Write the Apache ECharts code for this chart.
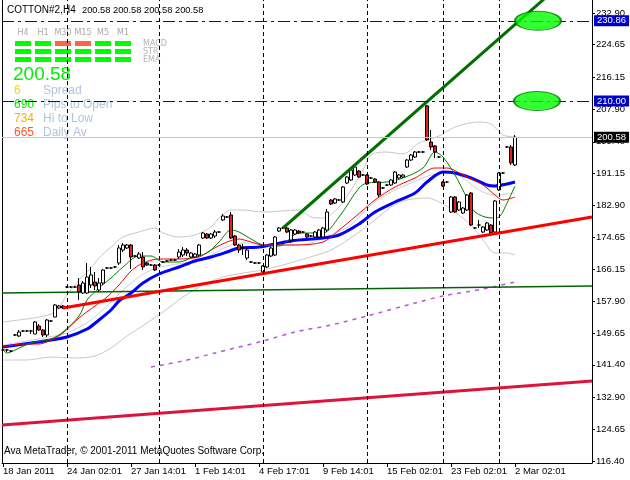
<!DOCTYPE html>
<html><head><meta charset="utf-8">
<script src="https://cdn.jsdelivr.net/npm/echarts@6/dist/echarts.min.js"></script>
<style>html,body{margin:0;padding:0;background:#fff}#c{width:630px;height:480px}</style>
</head><body><div id="c"></div>
<script>
// ---- candles (bar index = position in arrays) ----
const opens = [145.26,145.26,145.00,149.16,148.90,150.20,150.20,150.20,149.42,151.50,
150.46,149.16,152.80,153.84,156.18,156.70,161.64,161.64,161.64,162.16,
160.08,160.08,162.16,162.94,160.86,162.68,166.58,166.58,166.84,167.88,
171.26,171.78,172.56,169.70,169.18,169.44,167.88,167.36,167.36,167.36,
168.14,168.40,168.66,168.66,169.44,169.96,171.26,169.44,169.44,169.96,
174.38,175.42,174.38,174.90,175.94,179.06,179.84,180.36,174.90,172.56,
171.78,169.18,168.14,167.88,167.88,165.54,166.84,169.70,169.96,176.20,
176.98,176.98,173.86,175.42,176.20,175.94,175.42,174.90,174.64,174.64,
174.64,176.46,184.26,183.48,184.26,183.74,188.68,189.46,190.76,191.80,
190.76,190.76,189.98,189.72,188.94,187.38,188.16,188.16,188.68,189.98,
190.24,192.84,194.66,195.44,196.74,196.74,208.74,199.34,198.30,195.44,
188.94,188.94,181.14,185.04,181.66,180.88,181.66,186.08,176.98,177.76,
175.94,176.46,177.76,175.94,186.86,191.28,198.04,198.04,193.36];
const closes = [145.26,145.26,145.00,149.16,149.94,150.20,150.20,150.20,152.54,150.46,
149.16,153.06,152.80,156.96,156.70,156.18,161.64,161.64,161.64,160.34,
162.68,164.24,164.76,161.90,162.68,166.06,166.58,166.58,166.84,171.78,
172.56,172.56,169.44,169.70,170.22,166.84,167.36,167.36,166.06,167.36,
168.14,168.40,168.66,168.66,170.74,171.26,170.48,170.48,170.22,172.56,
175.68,174.38,175.42,175.94,175.94,180.10,179.84,174.38,172.56,171.26,
171.78,171.26,168.14,167.88,167.88,167.10,169.96,171.78,174.64,176.98,
176.98,175.94,176.46,176.46,175.68,175.94,174.64,174.90,175.94,176.46,
176.98,181.14,183.22,184.52,184.26,187.64,190.24,192.06,192.84,190.24,
190.76,188.42,189.98,188.94,185.56,187.38,188.16,189.46,191.54,190.76,
190.76,194.66,195.96,196.74,196.74,196.74,199.86,198.04,196.74,195.44,
187.90,188.94,185.04,181.14,183.74,182.18,185.56,177.76,176.98,177.76,
177.24,178.28,175.68,184.00,191.28,191.28,198.04,193.88,200.58];
const highs = [145.52,145.52,145.26,149.42,150.46,150.46,150.46,150.46,152.80,152.02,
150.72,153.32,153.06,157.22,156.96,156.96,161.90,161.90,161.90,163.98,
163.20,167.88,166.84,165.54,163.98,166.32,166.84,166.84,167.10,172.56,
173.08,172.82,172.82,169.96,170.74,170.74,168.14,167.62,167.62,167.62,
168.40,168.66,168.92,168.92,171.52,172.04,171.78,170.74,170.48,172.82,
175.94,175.68,175.68,176.46,176.20,180.62,180.10,181.14,175.16,172.82,
172.82,171.78,168.40,168.14,168.14,167.36,170.22,172.04,174.90,177.24,
177.24,177.50,176.72,176.72,176.46,176.20,175.68,175.16,176.20,176.72,
177.24,181.92,184.52,184.78,184.52,187.90,190.50,192.58,193.10,192.06,
191.02,191.02,190.24,189.98,189.20,187.64,188.42,189.72,191.80,191.02,
191.02,194.92,196.22,197.00,197.00,197.00,209.00,202.46,198.56,195.70,
189.20,189.20,185.30,185.30,184.00,182.44,185.82,186.34,177.24,179.06,
177.50,178.54,178.02,184.26,191.54,191.54,198.30,198.56,201.16];
const lows = [144.74,144.74,144.74,148.90,148.64,149.94,149.94,149.42,149.42,150.20,
148.64,148.64,152.54,153.84,155.92,155.92,161.38,161.38,161.38,158.26,
159.82,159.82,161.38,160.86,160.34,162.16,166.32,166.32,166.58,167.36,
170.74,171.52,166.32,169.44,168.92,166.06,167.10,167.10,165.80,167.10,
167.88,168.14,168.40,168.40,168.92,169.44,169.70,169.18,169.18,169.44,
174.12,174.12,174.12,174.38,175.68,178.80,179.58,174.12,172.30,170.48,
169.96,168.66,167.88,167.62,167.62,165.28,166.58,169.44,169.70,175.94,
176.72,175.68,173.08,175.16,175.42,175.68,174.38,174.64,174.38,174.38,
174.38,175.94,182.96,183.22,184.00,183.48,188.42,189.20,190.50,189.98,
190.50,188.16,189.72,188.68,185.04,187.12,187.90,187.90,188.42,189.72,
189.98,192.58,194.40,195.18,196.48,196.48,199.60,197.26,195.18,195.18,
187.64,188.68,180.88,180.88,181.40,180.62,181.40,177.50,176.72,176.98,
175.68,176.20,175.42,175.68,186.60,191.02,197.78,193.36,193.10];

// ---- indicator lines, [bar index, price] ----
const blueMA = [[0,146.04],[7,147.08],[12,147.86],[16,148.64],[21,150.72],[24,153.06],[27,155.66],[29,158.00],[32,160.08],[35,162.68],[39,165.02],[44,166.84],[48,168.40],[52,169.44],[56,170.74],[59,171.78],[64,172.04],[72,173.60],[80,174.38],[84,175.16],[89,178.02],[93,181.14],[98,183.74],[103,186.08],[106,188.94],[110,191.54],[113,191.28],[117,189.98],[121,188.16],[123,187.90],[126,188.42],[128,188.94]];
const redMA = [[0,146.04],[5,146.82],[9,146.82],[13,148.38],[15,149.68],[19,153.58],[23,156.70],[26,159.04],[29,162.16],[32,165.80],[35,167.88],[39,168.92],[44,168.92],[49,169.44],[52,171.26],[56,173.34],[59,174.12],[62,173.34],[65,172.56],[73,172.56],[80,173.34],[84,176.46],[88,179.84],[93,184.26],[98,187.64],[103,189.98],[108,192.58],[111,192.58],[115,190.76],[120,188.16],[123,185.56],[125,184.26],[128,185.04]];
const greenMA = [[0,145.26],[1,144.48],[3,145.26],[7,147.08],[12,148.12],[15,149.94],[19,154.10],[21,158.26],[24,161.38],[27,163.98],[30,166.84],[34,169.70],[37,169.70],[40,168.14],[44,168.14],[47,169.18],[51,170.48],[54,173.34],[57,176.46],[59,175.94],[62,174.12],[65,172.56],[69,172.30],[74,175.68],[80,175.68],[84,179.84],[89,187.38],[91,188.68],[96,188.94],[100,189.98],[105,192.58],[108,196.74],[110,195.44],[113,190.76],[116,184.78],[118,181.14],[122,179.58],[124,179.84],[126,183.48],[128,187.90]];
const bandUpper = [[0,152.54],[4,153.06],[9,153.84],[13,155.14],[16,159.56],[19,163.46],[22,166.58],[24,169.18],[27,172.04],[30,174.64],[34,175.94],[38,176.98],[40,175.68],[44,174.64],[48,175.16],[52,177.24],[54,179.58],[57,181.66],[60,181.66],[65,181.14],[74,181.66],[77,179.84],[80,179.58],[84,182.44],[87,186.86],[90,192.06],[92,195.96],[96,196.74],[100,196.22],[104,199.08],[109,200.90],[113,203.24],[119,204.54],[122,204.02],[125,201.16],[128,200.64]];
const bandMiddle = [[0,146.56],[10,148.38],[16,149.68],[22,153.06],[27,157.74],[32,162.68],[37,166.06],[42,167.36],[47,168.14],[52,169.96],[57,172.56],[62,173.08],[67,172.56],[72,172.56],[77,173.08],[82,175.16],[87,177.76],[92,182.96],[97,186.34],[102,188.68],[107,190.76],[111,191.54],[115,189.98],[119,186.86],[123,185.56],[128,186.08]];
const bandLower = [[0,142.66],[6,142.66],[12,143.44],[18,143.18],[23,143.70],[27,145.78],[31,148.90],[36,152.28],[40,155.14],[45,159.04],[50,162.16],[55,164.24],[60,165.28],[65,166.06],[70,167.36],[76,169.18],[82,171.26],[88,175.16],[93,179.06],[97,182.44],[101,184.26],[106,184.78],[110,183.22],[114,180.36],[117,177.76],[120,173.86],[123,170.48],[126,170.48],[128,169.96]];
const purpleMA = [[37,140.84],[45,142.40],[53,144.48],[65,147.60],[73,149.94],[82,151.76],[91,154.10],[103,157.48],[110,159.30],[120,161.12],[128,162.94]];

// ---- drawn objects ----
const greenTrend = [[70,176.98],[147.25,247.45]];
const redTrend = [[15,156.18],[147.25,179.84]];
const greenFlat = [[-0.25,160.08],[147.25,161.90]];
const crimsonTrend = [[-0.25,125.76],[147.25,137.20]];
const alertLevels = [230.86, 210.00];
const bidPrice = 200.58;
const alertMarkers = [[133.75,230.86],[133.5,210.00]];
const weekSeparators = [16,39,65,91,110,124];

// ---- axes ----
const yMin = 115.88, yMax = 236.26;
const yTickValues = [116.40,124.65,132.90,141.40,149.65,157.90,166.15,174.65,182.90,191.15,199.40,207.90,216.15,224.65,232.90];
const xTickSlots = [0,16,32,48,64,80,96,112,128];
const xTickLabels = ['18 Jan 2011','24 Jan 02:01','27 Jan 14:01','1 Feb 14:01','4 Feb 17:01','9 Feb 14:01','15 Feb 02:01','23 Feb 02:01','2 Mar 02:01'];

// ---- panel text ----
const tfNames = ['H4','H1','M30','M15','M5','M1'];
const rowNames = ['MACD','STR','EMA'];
const signalRows = [[1,1,0,0,1,1],[1,1,1,1,1,1],[1,1,1,1,1,1]];
const statValues = ['6','690','734','665'];
const statNames = ['Spread','Pips to Open','Hi to Low','Daily Av'];

const F = 'Liberation Sans, Arial, sans-serif';
const FD = 'DejaVu Sans, sans-serif';
const chart = echarts.init(document.getElementById('c'));
const candleData = opens.map((o,i)=>[i,o,closes[i],lows[i],highs[i]]);

function ln(data,color,width,z,extra){
  return Object.assign({type:'line',data:data,showSymbol:false,symbol:'none',silent:true,z:z,
    lineStyle:{color:color,width:width},clip:true},extra||{});
}

const graphics = [];
graphics.push({type:'text',x:7,y:10,style:{text:'COTTON#2,H4',font:'10px '+F,fill:'#000',verticalAlign:'middle'}});
[0,1,2,3].forEach(k=>graphics.push({type:'text',x:82+k*31,y:10,style:{text:bidPrice.toFixed(2),font:'9.3px '+F,fill:'#000',verticalAlign:'middle'}}));
const colX=[15,35,55,75,95,115];
tfNames.forEach((t,i)=>graphics.push({type:'text',x:colX[i]+8,y:33,style:{text:t,font:'8px '+FD,fill:'#a8a8a8',align:'center',verticalAlign:'middle'}}));
signalRows.forEach((row,r)=>row.forEach((s,i)=>graphics.push({type:'rect',shape:{x:colX[i],y:41+r*8,width:16,height:5},style:{fill:s?'#00ff00':'#ff6347'}})));
rowNames.forEach((t,r)=>graphics.push({type:'text',x:143,y:43.5+r*8,style:{text:t,font:'8px '+FD,fill:'#b4b4b4',verticalAlign:'middle'}}));
graphics.push({type:'text',x:13,y:75,style:{text:bidPrice.toFixed(2),font:'19px '+F,fill:'#00ee00',verticalAlign:'middle'}});
const statColors=['#ffd700','#00ee00','#f8b000','#ff5a2a'];
statValues.forEach((v,i)=>{
  graphics.push({type:'text',x:14,y:91+i*14,style:{text:v,font:'12px '+F,fill:statColors[i],verticalAlign:'middle'}});
  graphics.push({type:'text',x:43,y:91+i*14,style:{text:statNames[i],font:'12px '+F,fill:'#b0c4de',verticalAlign:'middle'}});
});
graphics.push({type:'text',x:4,y:451,style:{text:'Ava MetaTrader, © 2001-2011 MetaQuotes Software Corp.',font:'10px '+F,fill:'#000',verticalAlign:'middle'}});

const option = {
  animation:false,
  backgroundColor:'#ffffff',
  grid:{left:2,right:38,top:0,bottom:17},
  xAxis:{type:'value',min:-0.25,max:147.25,
    axisLine:{show:true,onZero:false,lineStyle:{color:'#000',width:1}},
    axisTick:{show:true,customValues:xTickSlots,length:4,lineStyle:{color:'#000'}},
    axisLabel:{show:true,customValues:xTickSlots,formatter:v=>xTickLabels[Math.round(v/16)],align:'left',color:'#000',fontFamily:F,fontSize:9.5,margin:3},
    splitLine:{show:false}},
  yAxis:[{type:'value',position:'right',min:yMin,max:yMax,
    axisLine:{show:true,onZero:false,lineStyle:{color:'#000',width:1}},
    axisTick:{show:true,customValues:yTickValues,length:3,lineStyle:{color:'#000'}},
    axisLabel:{show:true,customValues:yTickValues,formatter:v=>v.toFixed(2),color:'#000',fontFamily:F,fontSize:9.5,margin:4},
    splitLine:{show:false}},
   {type:'value',position:'left',min:yMin,max:yMax,
    axisLine:{show:true,onZero:false,lineStyle:{color:'#000',width:1}},
    axisTick:{show:false},axisLabel:{show:false},splitLine:{show:false}}],
  graphic:{elements:graphics},
  series:[
    ln(bandUpper,'#c8c8c8',1,1,{smooth:0.3}),
    ln(bandMiddle,'#d0d0d0',1,1,{smooth:0.3}),
    ln(bandLower,'#c8c8c8',1,1,{smooth:0.3}),
    ln(purpleMA,'#ba55d3',1.5,2,{smooth:0.3,lineStyle:{color:'#ba55d3',width:1.5,type:[4,5]}}),
    ln(greenFlat,'#006400',1.5,2),
    ln(crimsonTrend,'#dc143c',3,2),
    ln(blueMA,'#0000ff',3,2,{smooth:0.3}),
    ln(redMA,'#ff0000',1,2,{smooth:0.3}),
    ln(greenMA,'#008000',1,2,{smooth:0.3}),
    {type:'candlestick',data:candleData,encode:{x:0,y:[1,2,3,4]},barWidth:3,z:3,silent:true,
      itemStyle:{color:'#ffffff',color0:'#e0201b',borderColor:'#000000',borderColor0:'#000000',borderWidth:1}},
    ln(redTrend,'#ff0000',3,4),
    ln(greenTrend,'#007000',3,4),
    {type:'scatter',data:alertMarkers,z:5,silent:true,
      symbol:'path://M0,50 A50,50 0 1 1 100,50 A50,50 0 1 1 0,50 Z',symbolSize:[46,19],
      itemStyle:{color:'#00ff00',borderColor:'#008000',borderWidth:1.5}},
    {type:'line',data:[],z:6,silent:true,
      markLine:{silent:true,symbol:['none','none'],animation:false,
        data:[
          ...weekSeparators.map(s=>({xAxis:s,lineStyle:{color:'#000',width:1,type:[4,3]},label:{show:false}})),
          {yAxis:bidPrice,lineStyle:{color:'#c8c8c8',width:1,type:'solid'},
            label:{show:true,position:'end',distance:2,formatter:bidPrice.toFixed(2),color:'#fff',backgroundColor:'#000',padding:[1,3,0,3],fontFamily:F,fontSize:9.5}},
          ...alertLevels.map(v=>({yAxis:v,lineStyle:{color:'#0000e0',width:1,type:[12,4,3,4]},
            label:{show:true,position:'end',distance:2,formatter:v.toFixed(2),color:'#fff',backgroundColor:'#0000cd',padding:[1,3,0,3],fontFamily:F,fontSize:9.5}}))
        ]}}
  ]
};
chart.setOption(option);
</script></body></html>
